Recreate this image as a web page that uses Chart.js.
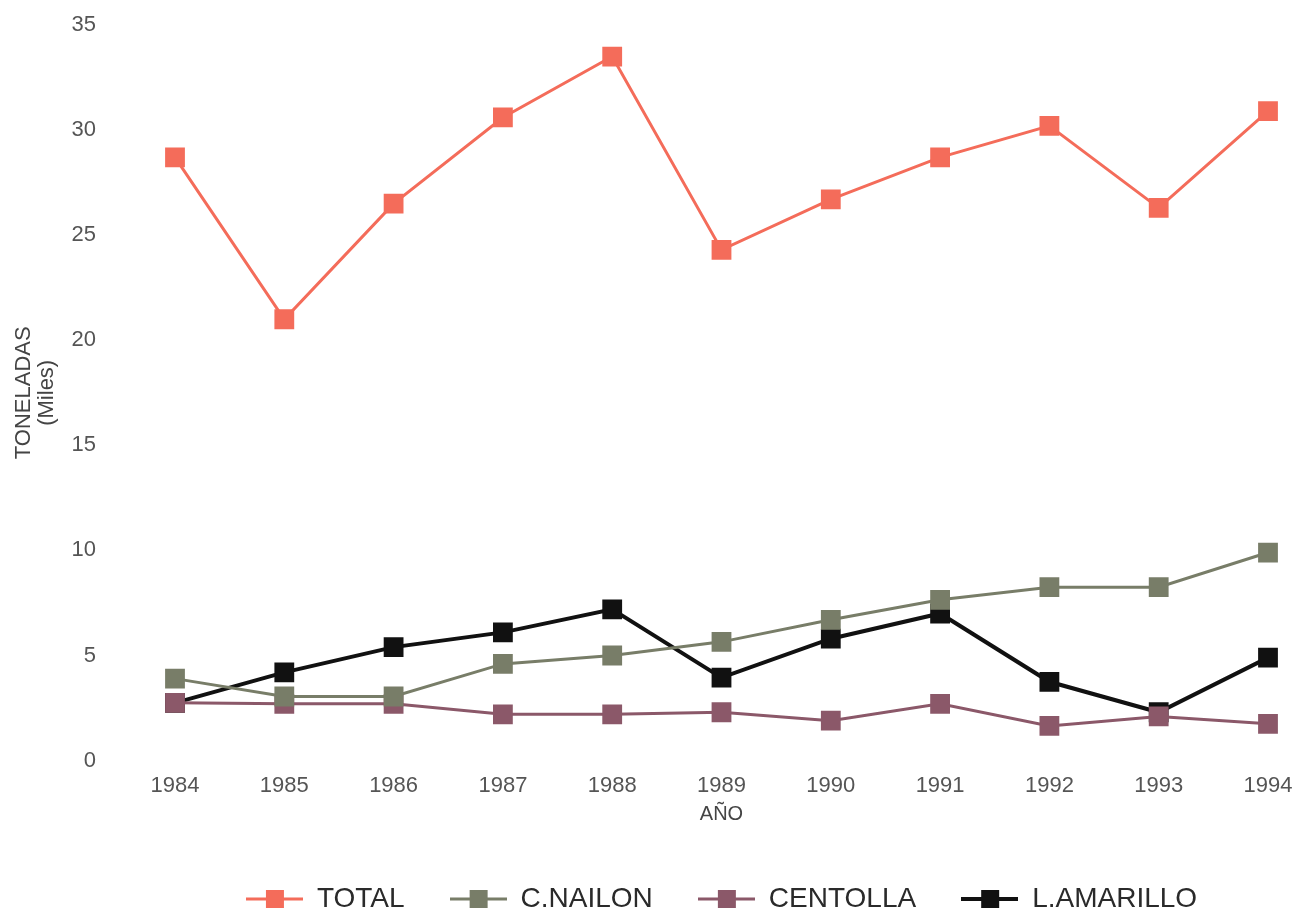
<!DOCTYPE html>
<html>
<head>
<meta charset="utf-8">
<script src="https://cdn.jsdelivr.net/npm/chart.js@4.4.1/dist/chart.umd.min.js"></script>
<style>
  html, body { margin: 0; padding: 0; background: #fff; }
  #wrap { width: 1299px; height: 915px; position: relative; }
</style>
</head>
<body>
<div id="wrap"><canvas id="myChart"></canvas></div>
<script>
const years = ["1984", "1985", "1986", "1987", "1988", "1989", "1990", "1991", "1992", "1993", "1994"];
const total = [28.7, 21.0, 26.5, 30.6, 33.5, 24.3, 26.7, 28.7, 30.2, 26.3, 30.9];
const nailon = [3.9, 3.05, 3.05, 4.6, 5.0, 5.65, 6.7, 7.65, 8.25, 8.25, 9.9];
const centolla = [2.75, 2.7, 2.7, 2.2, 2.2, 2.3, 1.9, 2.7, 1.65, 2.1, 1.75];
const amarillo = [2.75, 4.2, 5.4, 6.1, 7.2, 3.95, 5.8, 7.0, 3.75, 2.3, 4.9];
const yTicks = [0, 5, 10, 15, 20, 25, 30, 35];

const FONT = "Liberation Sans, Arial, sans-serif";

// line + square icon used in the legend
function legendIcon(color, lw) {
  const c = document.createElement("canvas");
  c.width = 57; c.height = 20;
  const ctx = c.getContext("2d");
  ctx.strokeStyle = color;
  ctx.lineWidth = lw;
  ctx.beginPath();
  ctx.moveTo(0, 10); ctx.lineTo(57, 10);
  ctx.stroke();
  ctx.fillStyle = color;
  ctx.fillRect(20, 1, 18, 18);
  return c;
}

function makeSet(label, values, color, lw) {
  return {
    label: label,
    data: values,
    borderColor: color,
    backgroundColor: color,
    borderWidth: lw,
    pointStyle: "rect",
    pointRadius: 14,
    pointHoverRadius: 14,
    pointBorderWidth: 0,
    tension: 0,
    fill: false
  };
}

const sets = [
  makeSet("TOTAL", total, "#f46c5a", 3),
  makeSet("C.NAILON", nailon, "#787d68", 3),
  makeSet("CENTOLLA", centolla, "#8b5869", 3),
  makeSet("L.AMARILLO", amarillo, "#111111", 4)
];
const icons = sets.map(s => legendIcon(s.borderColor, s.borderWidth));

const config = {
  type: "line",
  data: { labels: years, datasets: sets },
  options: {
    responsive: true,
    maintainAspectRatio: false,
    animation: false,
    layout: { padding: { top: 0, right: 0, left: 0, bottom: -8 } },
    plugins: {
      tooltip: { enabled: false },
      legend: {
        position: "bottom",
        fullSize: false,
        labels: {
          usePointStyle: true,
          pointStyleWidth: 57,
          boxHeight: 20,
          padding: 45,
          color: "#2a2a2a",
          font: { family: FONT, size: 28 },
          generateLabels: function (chart) {
            return chart.data.datasets.map((ds, i) => ({
              text: ds.label,
              pointStyle: icons[i],
              fillStyle: ds.borderColor,
              strokeStyle: ds.borderColor,
              lineWidth: 0,
              hidden: false,
              datasetIndex: i,
              fontColor: "#2a2a2a"
            }));
          }
        }
      }
    },
    scales: {
      x: {
        offset: false,
        afterFit: function (axis) {
          axis.paddingRight = 31;
        },
        grid: { display: false, drawTicks: false },
        border: { display: false },
        ticks: {
          color: "#555",
          padding: 12,
          maxRotation: 0,
          font: { family: FONT, size: 22 }
        },
        title: {
          display: true,
          text: "AÑO",
          color: "#444",
          padding: { top: -9, bottom: 14 },
          font: { family: FONT, size: 20 }
        }
      },
      y: {
        min: 0,
        max: 35,
        afterBuildTicks: function (axis) {
          axis.ticks = yTicks.map(v => ({ value: v }));
        },
        afterFit: function (axis) {
          axis.width = 175;
          axis.paddingTop = 25;
          axis.paddingBottom = 5;
        },
        grid: { display: false, drawTicks: false },
        border: { display: false },
        ticks: {
          color: "#555",
          padding: 79,
          font: { family: FONT, size: 22 }
        },
        title: {
          display: true,
          text: ["TONELADAS", "(Miles)"],
          color: "#444",
          padding: { top: 12, bottom: 0 },
          font: { family: FONT, size: 22, lineHeight: 1.05 }
        }
      }
    }
  }
};

const myChart = new Chart(document.getElementById("myChart"), config);
</script>
</body>
</html>
